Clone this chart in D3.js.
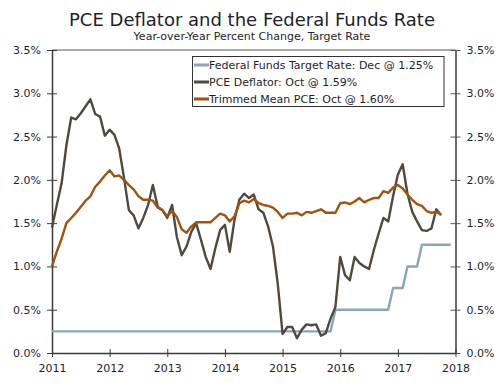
<!DOCTYPE html>
<html><head><meta charset="utf-8">
<script src="https://cdn.jsdelivr.net/npm/d3@7"></script>
<style>
body{margin:0;background:#fff}
svg{display:block}
text{font-family:"DejaVu Sans",Verdana,sans-serif;fill:#1e1e2c}
</style>
</head><body>
<svg id="chart" width="500" height="383"></svg>
<script>
const titleText = "PCE Deflator and the Federal Funds Rate";
const subtitleText = "Year-over-Year Percent Change, Target Rate";
const yearLabels = ["2011","2012","2013","2014","2015","2016","2017","2018"];
const yTicks = [0, 0.5, 1.0, 1.5, 2.0, 2.5, 3.0, 3.5];
const seriesNames = ["Federal Funds Target Rate: Dec @ 1.25%", "PCE Deflator: Oct @ 1.59%", "Trimmed Mean PCE: Oct @ 1.60%"];
const seriesColors = ["#8aa5bb", "#51493f", "#a2520f"];

// Monthly, Jan 2011 - Dec 2017
const fedFunds = [
  0.25,0.25,0.25,0.25,0.25,0.25,0.25,0.25,0.25,0.25,0.25,0.25,
  0.25,0.25,0.25,0.25,0.25,0.25,0.25,0.25,0.25,0.25,0.25,0.25,
  0.25,0.25,0.25,0.25,0.25,0.25,0.25,0.25,0.25,0.25,0.25,0.25,
  0.25,0.25,0.25,0.25,0.25,0.25,0.25,0.25,0.25,0.25,0.25,0.25,
  0.25,0.25,0.25,0.25,0.25,0.25,0.25,0.25,0.25,0.25,0.25,0.50,
  0.50,0.50,0.50,0.50,0.50,0.50,0.50,0.50,0.50,0.50,0.50,0.75,
  0.75,0.75,1.00,1.00,1.00,1.25,1.25,1.25,1.25,1.25,1.25,1.25
];
// Monthly, Jan 2011 - Oct 2017
const pceDeflator = [
  1.45,1.71,1.96,2.40,2.72,2.70,2.77,2.85,2.93,2.76,2.73,2.51,
  2.58,2.52,2.36,2.02,1.65,1.59,1.44,1.56,1.71,1.94,1.69,1.65,
  1.56,1.71,1.34,1.13,1.23,1.40,1.50,1.31,1.11,0.97,1.21,1.42,
  1.48,1.17,1.54,1.77,1.84,1.79,1.83,1.66,1.62,1.46,1.23,0.80,
  0.22,0.30,0.30,0.17,0.27,0.33,0.32,0.33,0.20,0.23,0.40,0.53,
  1.11,0.90,0.84,1.11,1.04,1.00,0.97,1.19,1.38,1.56,1.52,1.81,
  2.06,2.18,1.84,1.63,1.52,1.42,1.41,1.44,1.66,1.59
];
const trimmedMean = [
  1.00,1.17,1.32,1.50,1.56,1.62,1.69,1.76,1.81,1.92,1.98,2.05,
  2.11,2.04,2.05,2.00,1.94,1.89,1.81,1.77,1.77,1.76,1.68,1.65,
  1.58,1.64,1.57,1.43,1.39,1.46,1.51,1.51,1.51,1.51,1.56,1.61,
  1.59,1.52,1.58,1.73,1.76,1.74,1.78,1.73,1.71,1.70,1.68,1.63,
  1.56,1.61,1.61,1.62,1.59,1.63,1.62,1.64,1.66,1.62,1.62,1.62,
  1.73,1.74,1.72,1.75,1.79,1.74,1.77,1.79,1.79,1.87,1.85,1.91,
  1.94,1.90,1.83,1.77,1.72,1.70,1.64,1.62,1.63,1.60
];

const svg = d3.select("#chart");
const mLeft = 52, mRight = 455.5, mTop = 50, mBottom = 353;

const x = d3.scaleLinear().domain([0, 84]).range([mLeft, mRight]);
const y = d3.scaleLinear().domain([0, 3.5]).range([mBottom, mTop]);

// title
svg.append("text").attr("x", 252).attr("y", 26).attr("text-anchor", "middle")
  .style("font-size", "18px").text(titleText);
svg.append("text").attr("x", 252).attr("y", 40).attr("text-anchor", "middle")
  .style("font-size", "11px").text(subtitleText);

// frame top
svg.append("line").attr("x1", mLeft).attr("x2", mRight).attr("y1", mTop).attr("y2", mTop)
  .attr("stroke", "#555").attr("stroke-width", 1);

const fmt = d => d3.format(".1f")(d) + "%";

// left axis
const gL = svg.append("g").attr("transform", `translate(${mLeft},0)`)
  .call(d3.axisLeft(y).tickValues(yTicks).tickFormat(fmt).tickSize(5).tickSizeOuter(0));
gL.select(".domain").attr("stroke", "#3a3a3a").attr("stroke-width", 1.5);
gL.selectAll(".tick line").attr("x1", -5).attr("x2", 5).attr("stroke", "#3a3a3a");
gL.selectAll(".tick text").attr("x", -11).style("font-size", "11px");

// right axis
const gR = svg.append("g").attr("transform", `translate(${mRight},0)`)
  .call(d3.axisRight(y).tickValues(yTicks).tickFormat(fmt).tickSize(5).tickSizeOuter(0));
gR.select(".domain").attr("stroke", "#6b6b6b").attr("stroke-width", 2);
gR.selectAll(".tick line").attr("x1", -5).attr("x2", 5).attr("stroke", "#555");
gR.selectAll(".tick text").attr("x", 11).style("font-size", "11px");

// bottom axis
const gB = svg.append("g").attr("transform", `translate(0,${mBottom})`)
  .call(d3.axisBottom(x).tickValues(yearLabels.map((d, i) => i * 12))
    .tickFormat((d, i) => yearLabels[i]).tickSize(4).tickSizeOuter(0));
gB.select(".domain").attr("stroke", "#3a3a3a").attr("stroke-width", 1.5);
gB.selectAll(".tick line").attr("y1", -4).attr("y2", 4).attr("stroke", "#3a3a3a");
gB.selectAll(".tick text").attr("y", 19).attr("dy", 0).style("font-size", "11px");
svg.selectAll(".tick text").attr("fill", null);

// lines
const line = d3.line().x((d, i) => x(i)).y(d => y(d));
const series = [fedFunds, pceDeflator, trimmedMean];
series.forEach((s, k) => {
  svg.append("path").datum(s).attr("d", line).attr("fill", "none")
    .attr("stroke", seriesColors[k]).attr("stroke-width", 2.4).attr("stroke-linejoin", "round");
});

// legend
const lg = svg.append("g");
lg.append("rect").attr("x", 192.5).attr("y", 56.5).attr("width", 251.5).attr("height", 50)
  .attr("fill", "#fff").attr("stroke", "#333").attr("stroke-width", 1);
seriesNames.forEach((n, k) => {
  const cy = 65 + k * 17;
  lg.append("line").attr("x1", 194).attr("x2", 209).attr("y1", cy).attr("y2", cy)
    .attr("stroke", seriesColors[k]).attr("stroke-width", 3);
  lg.append("text").attr("x", 209).attr("y", cy + 4).style("font-size", "11px").text(n);
});
</script>
</body></html>
